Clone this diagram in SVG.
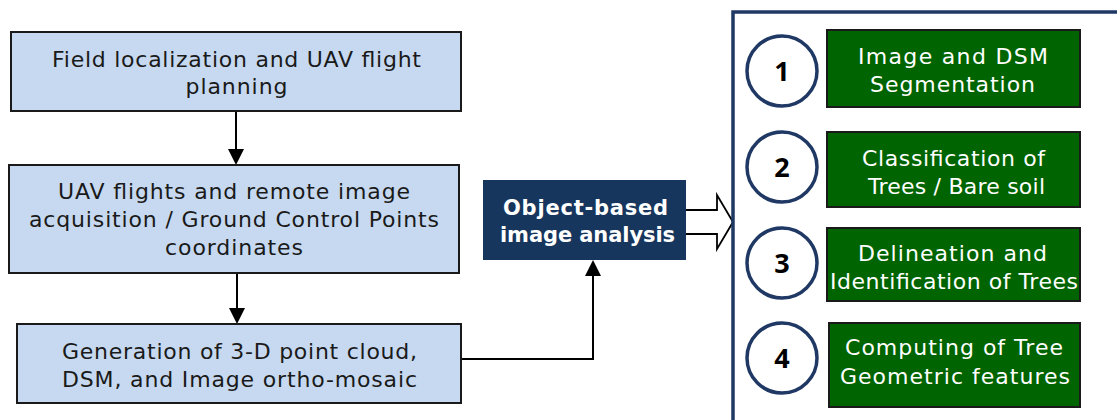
<svg xmlns="http://www.w3.org/2000/svg" width="1117" height="420" viewBox="0 0 1117 420">
<style>
.step{fill:#c6d9f0;stroke:#1a1a1a;stroke-width:2}
.st{font-family:"DejaVu Sans","Liberation Sans",sans-serif;font-size:22px;fill:#1a1a1a;text-anchor:middle}
.obia{fill:#17365d}
.ot{font-family:"DejaVu Sans","Liberation Sans",sans-serif;font-size:21px;font-weight:bold;fill:#ffffff;text-anchor:middle}
.green{fill:#006400;stroke:#1a1a1a;stroke-width:2}
.gt{font-family:"DejaVu Sans","Liberation Sans",sans-serif;font-size:22px;fill:#ffffff;text-anchor:middle}
.circ{fill:#ffffff;stroke:#1f3864;stroke-width:3.5}
.num{font-family:"Open Sans","Liberation Sans",sans-serif;font-size:27px;font-weight:bold;fill:#000000;text-anchor:middle}
.line{fill:none;stroke:#000000;stroke-width:2}
.panel{fill:none;stroke:#1f3864;stroke-width:3.5}
</style>
<defs>
<marker id="ah" markerWidth="16" markerHeight="16" refX="14" refY="8" orient="auto" markerUnits="userSpaceOnUse">
<path d="M0,0 L16,8 L0,16 Z" fill="#000000"/>
</marker>
</defs>

<g id="connectors">
<line class="line" x1="236" y1="111" x2="236" y2="163" marker-end="url(#ah)"/>
<line class="line" x1="237" y1="273" x2="237" y2="322" marker-end="url(#ah)"/>
<path class="line" d="M461,359 H593 V262" marker-end="url(#ah)"/>
<path d="M686,210 H717 V195 L733,222 L717,249 V234 H686" fill="#ffffff" stroke="#000000" stroke-width="1.8"/>
</g>

<g id="step1">
<rect class="step" x="11" y="32" width="450" height="79"/>
<text class="st" x="236.5" y="67" textLength="369">Field localization and UAV flight</text>
<text class="st" x="236.5" y="94" textLength="102">planning</text>
</g>

<g id="step2">
<rect class="step" x="9" y="165" width="450" height="108"/>
<text class="st" x="234" y="199" textLength="352">UAV flights and remote image</text>
<text class="st" x="234" y="227" textLength="410">acquisition / Ground Control Points</text>
<text class="st" x="234" y="255" textLength="138">coordinates</text>
</g>

<g id="step3">
<rect class="step" x="17" y="324" width="444" height="79"/>
<text class="st" x="239.5" y="359" textLength="355">Generation of 3-D point cloud,</text>
<text class="st" x="239.5" y="387" textLength="355">DSM, and Image ortho-mosaic</text>
</g>

<g id="obia">
<rect class="obia" x="483" y="180" width="203" height="80"/>
<text class="ot" x="585.5" y="215" textLength="165">Object-based</text>
<text class="ot" x="587.5" y="242" textLength="175">image analysis</text>
</g>

<g id="panel">
<path class="panel" d="M733,420 V12 H1117"/>
</g>

<g id="task1">
<circle class="circ" cx="782" cy="71" r="35"/>
<text class="num" x="782" y="81">1</text>
<rect class="green" x="827" y="30" width="253" height="77"/>
<text class="gt" x="953" y="64" textLength="190">Image and DSM</text>
<text class="gt" x="952.5" y="92" textLength="165">Segmentation</text>
</g>

<g id="task2">
<circle class="circ" cx="782" cy="167" r="35"/>
<text class="num" x="782" y="177">2</text>
<rect class="green" x="827" y="132" width="253" height="75"/>
<text class="gt" x="953.5" y="166" textLength="183">Classification of</text>
<text class="gt" x="956.5" y="194" textLength="177">Trees / Bare soil</text>
</g>

<g id="task3">
<circle class="circ" cx="782" cy="263" r="35"/>
<text class="num" x="782" y="273">3</text>
<rect class="green" x="827" y="228" width="253" height="73"/>
<text class="gt" x="952.5" y="261" textLength="189">Delineation and</text>
<text class="gt" x="954" y="289" textLength="248">Identification of Trees</text>
</g>

<g id="task4">
<circle class="circ" cx="782" cy="358" r="35"/>
<text class="num" x="782" y="368">4</text>
<rect class="green" x="829" y="323" width="251" height="84"/>
<text class="gt" x="954" y="355" textLength="218">Computing of Tree</text>
<text class="gt" x="955" y="384" textLength="230">Geometric features</text>
</g>
</svg>
